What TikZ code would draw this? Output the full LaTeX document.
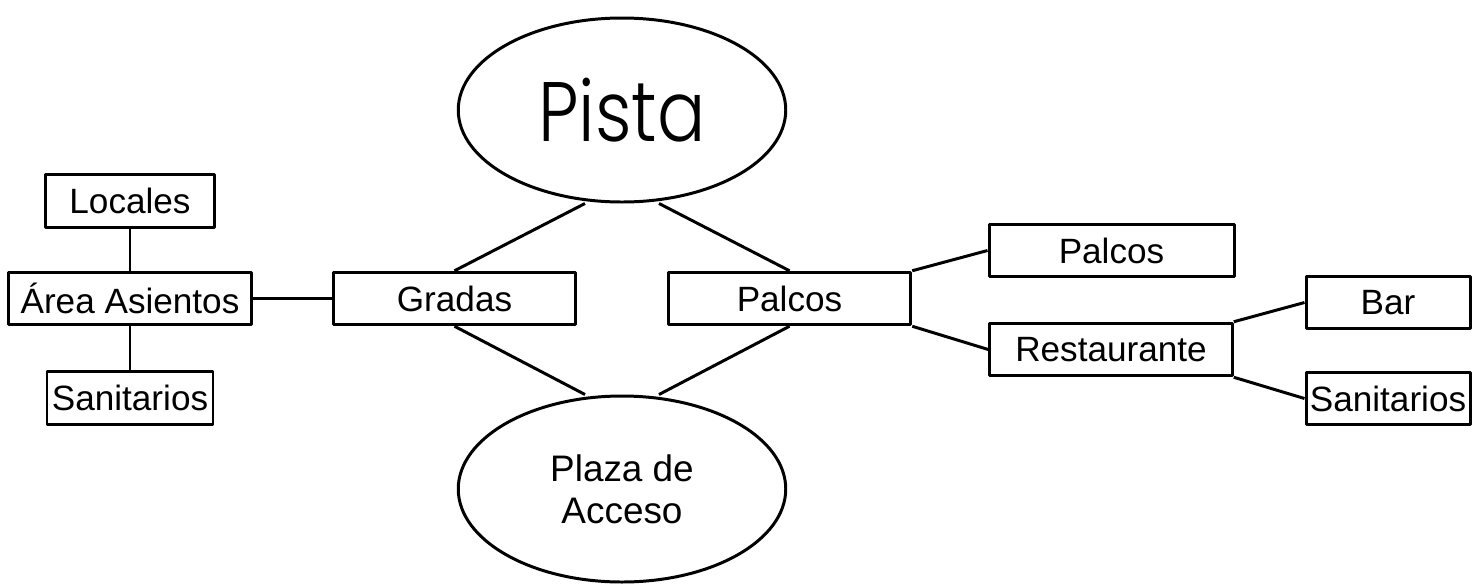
\documentclass[tikz,border=0pt]{standalone}
\usepackage{graphicx}
\usepackage{fontspec}
\setmainfont{Liberation Sans}
\newfontfamily\pistafont{Poppins Light}
\usetikzlibrary{shapes.geometric}
\begin{document}
\begin{tikzpicture}[line join=round]
    \tikzstyle{caja} = [draw,rectangle,line width=1.7pt,inner sep=0pt,
                        minimum height=1.05cm,font=\fontsize{20}{24}\selectfont]
    \tikzstyle{zona} = [draw,ellipse,line width=1.7pt,inner sep=0pt,
                        minimum width=6.55cm]
    \tikzstyle{enlace} = [line width=1.7pt]
    \useasboundingbox (0,0) rectangle (29.46,-11.74);
    \node[zona,minimum height=3.68cm,font=\pistafont\fontsize{48}{54}\selectfont]
        (pista) at (12.44,-2.2) {\scalebox{0.85}[1]{Pista}};
    \node[zona,minimum height=3.72cm,align=center,font=\fontsize{21}{24}\selectfont]
        (plaza) at (12.44,-9.78) {Plaza de\\Acceso};
    \node[caja,minimum width=4.85cm] (gradas) at (9.09,-5.97) {Gradas};
    \node[caja,minimum width=4.85cm] (palcos) at (15.79,-5.97) {Palcos};
    \node[caja,minimum width=4.85cm] (area) at (2.6,-5.97) {Área Asientos};
    \node[caja,minimum width=3.37cm] (locales) at (2.6,-4.02) {Locales};
    \node[caja,minimum width=3.32cm] (sanizq) at (2.6,-7.96) {Sanitarios};
    \node[caja,minimum width=4.9cm] (palcosder) at (22.23,-5.01) {Palcos};
    \node[caja,minimum width=4.85cm] (rest) at (22.22,-6.99) {Restaurante};
    \node[caja,minimum width=3.28cm] (bar) at (27.76,-6.05) {Bar};
    \node[caja,minimum width=3.28cm] (sander) at (27.76,-7.97) {Sanitarios};
    \draw[enlace] (locales) -- (area);
    \draw[enlace] (area) -- (sanizq);
    \draw[enlace] (area) -- (gradas);
    \draw[enlace] (gradas.north) -- ([xshift=-0.74cm]pista.south);
    \draw[enlace] (palcos.north) -- ([xshift=0.74cm]pista.south);
    \draw[enlace] (gradas.south) -- ([xshift=-0.74cm]plaza.north);
    \draw[enlace] (palcos.south) -- ([xshift=0.74cm]plaza.north);
    \draw[enlace] (palcos.north east) -- (palcosder.west);
    \draw[enlace] (palcos.south east) -- (rest.west);
    \draw[enlace] (rest.north east) -- (bar.west);
    \draw[enlace] (rest.south east) -- (sander.west);
\end{tikzpicture}
\end{document}
